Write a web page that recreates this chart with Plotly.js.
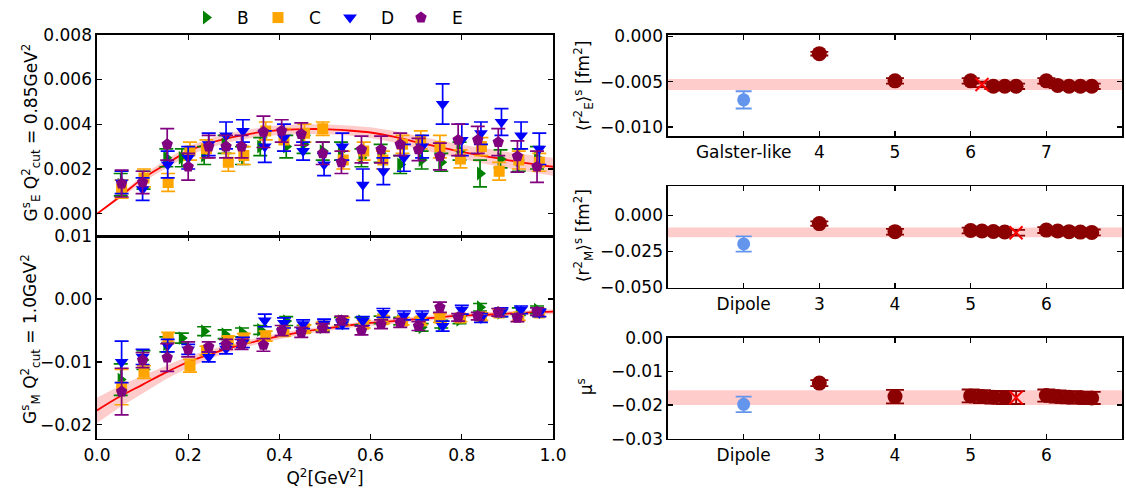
<!DOCTYPE html>
<html>
<head>
<meta charset="utf-8">
<script src="https://cdn.plot.ly/plotly-3.0.1.min.js"></script>
<style>html,body{margin:0;padding:0;background:#fff;}</style>
</head>
<body>
<div id="chart" style="width:1126px;height:495px;"></div>
<script>
// ---------- Left panels: data per ensemble ----------
const Q2_B = [0.052,0.102,0.152,0.186,0.235,0.280,0.318,0.358,0.415,0.453,0.495,0.535,0.580,0.622,0.665,0.712,0.755,0.795,0.840,0.885,0.925,0.965];
const GE_B = [0.0013,0.0015,0.0025,0.0025,0.0026,0.0031,0.0026,0.0030,0.0030,0.0031,0.0028,0.0028,0.0025,0.0027,0.0022,0.0024,0.0023,0.0028,0.0018,0.00245,0.0024,0.0025];
const GEerr_B = [0.0005,0.0004,0.0004,0.0004,0.0004,0.0004,0.0004,0.0004,0.0005,0.0004,0.0004,0.0004,0.0004,0.0004,0.0004,0.0004,0.0004,0.0004,0.0006,0.0004,0.0005,0.0005];
const GM_B = [-0.0128,-0.0097,-0.0072,-0.0062,-0.0051,-0.0056,-0.0053,-0.0049,-0.0035,-0.0048,-0.0045,-0.0035,-0.0035,-0.0033,-0.0035,-0.0045,-0.0040,-0.0033,-0.0013,-0.0022,-0.0020,-0.0017];
const GMerr_B = [0.0025,0.0015,0.0012,0.0008,0.0007,0.0007,0.0007,0.0007,0.0007,0.0006,0.0006,0.0006,0.0006,0.0006,0.0006,0.0006,0.0006,0.0006,0.0006,0.0006,0.0006,0.0006];

const Q2_C = [0.054,0.103,0.156,0.204,0.240,0.288,0.322,0.370,0.410,0.455,0.495,0.540,0.585,0.627,0.670,0.710,0.752,0.797,0.843,0.882,0.925,0.970];
const GE_C = [0.0011,0.0016,0.0014,0.0028,0.0029,0.0023,0.0026,0.0037,0.0033,0.0036,0.0038,0.0024,0.0028,0.0024,0.0031,0.0033,0.0030,0.00245,0.0030,0.0019,0.0024,0.0023];
const GEerr_C = [0.0004,0.0004,0.0004,0.0004,0.0004,0.0004,0.0004,0.0004,0.0005,0.0004,0.0003,0.0004,0.0004,0.0004,0.0004,0.0004,0.0005,0.0004,0.0004,0.0004,0.0004,0.0004];
const GM_C = [-0.0140,-0.0116,-0.0061,-0.0106,-0.0082,-0.0066,-0.0062,-0.0059,-0.0052,-0.0047,-0.0043,-0.0035,-0.0040,-0.0033,-0.0035,-0.0035,-0.0030,-0.0030,-0.0028,-0.0022,-0.0028,-0.0022];
const GMerr_C = [0.0028,0.0010,0.0008,0.0010,0.0007,0.0007,0.0007,0.0008,0.0007,0.0006,0.0006,0.0006,0.0006,0.0006,0.0006,0.0006,0.0007,0.0006,0.0006,0.0006,0.0006,0.0006];

const Q2_D = [0.054,0.100,0.155,0.200,0.245,0.283,0.320,0.368,0.410,0.452,0.498,0.538,0.583,0.628,0.673,0.713,0.758,0.800,0.842,0.887,0.930,0.970];
const GE_D = [0.0014,0.0011,0.0022,0.0025,0.0031,0.0035,0.0037,0.0030,0.0034,0.0028,0.0022,0.0030,0.0013,0.0019,0.0025,0.0030,0.0049,0.0033,0.0036,0.0041,0.0035,0.0029];
const GEerr_D = [0.0005,0.0005,0.0006,0.0005,0.0005,0.0006,0.0005,0.0007,0.0006,0.0004,0.0005,0.0006,0.0007,0.0006,0.0006,0.0005,0.0009,0.0007,0.0005,0.0006,0.0006,0.0007];
const GM_D = [-0.0100,-0.0092,-0.0074,-0.0080,-0.0092,-0.0079,-0.0069,-0.0034,-0.0038,-0.0040,-0.0039,-0.0040,-0.0035,-0.0022,-0.0026,-0.0026,-0.0043,-0.0017,-0.0030,-0.0021,-0.0017,-0.0022];
const GMerr_D = [0.0033,0.0012,0.0010,0.0008,0.0008,0.0008,0.0008,0.0010,0.0008,0.0007,0.0007,0.0007,0.0007,0.0007,0.0007,0.0007,0.0008,0.0007,0.0007,0.0007,0.0006,0.0006];

const Q2_E = [0.054,0.100,0.154,0.200,0.245,0.283,0.317,0.365,0.405,0.448,0.495,0.536,0.580,0.623,0.665,0.705,0.752,0.792,0.835,0.880,0.922,0.965];
const GE_E = [0.00135,0.0014,0.0031,0.0021,0.0030,0.0030,0.0030,0.00366,0.0037,0.00356,0.0027,0.0023,0.00287,0.00287,0.0031,0.00287,0.00256,0.0033,0.0033,0.0032,0.00256,0.0021];
const GEerr_E = [0.0006,0.0005,0.0007,0.0006,0.0005,0.0005,0.0005,0.0007,0.0005,0.0005,0.0005,0.0005,0.0006,0.0006,0.0005,0.0005,0.0006,0.0007,0.0006,0.0006,0.0007,0.0007];
const GM_E = [-0.0147,-0.0097,-0.0093,-0.0080,-0.0076,-0.0072,-0.0072,-0.0073,-0.0050,-0.0053,-0.0046,-0.0034,-0.0050,-0.0040,-0.0038,-0.0043,-0.0013,-0.0029,-0.0027,-0.0021,-0.0030,-0.0020];
const GMerr_E = [0.0037,0.0012,0.0022,0.0012,0.0008,0.0008,0.0008,0.0010,0.0008,0.0008,0.0007,0.0007,0.0007,0.0007,0.0007,0.0007,0.0008,0.0006,0.0006,0.0006,0.0006,0.0006];

// fit curves
const FIT_Q2 = [0,0.05,0.10,0.15,0.20,0.25,0.30,0.35,0.40,0.45,0.50,0.55,0.60,0.65,0.70,0.75,0.80,0.85,0.90,0.95,1.00];
const FIT_GE = [0,0.00076,0.00157,0.0022,0.0028,0.00318,0.00344,0.00362,0.00374,0.00378,0.00378,0.00372,0.00363,0.00345,0.0032,0.00298,0.00276,0.00257,0.0024,0.00224,0.0021];
const FIT_GE_ERR = [0,0.0001,0.00015,0.0002,0.0002,0.0002,0.0002,0.0002,0.00022,0.00022,0.00022,0.00022,0.00024,0.00026,0.00028,0.0003,0.00032,0.00034,0.00036,0.00038,0.0004];
const FIT_GM = [-0.0177,-0.0155,-0.0136,-0.0117,-0.0100,-0.0087,-0.0076,-0.0067,-0.0059,-0.0052,-0.0047,-0.0042,-0.0038,-0.0035,-0.0032,-0.0029,-0.0026,-0.0025,-0.0023,-0.0021,-0.0020];
const FIT_GM_ERR = [0.0020,0.0017,0.0014,0.0011,0.0009,0.0007,0.0006,0.0005,0.0005,0.0004,0.0004,0.0004,0.0004,0.0004,0.0004,0.0004,0.0004,0.0004,0.0004,0.0004,0.0004];

// ---------- Right panels ----------
const RE_TICKS = ['Galster-like','4','5','6','7'];
const RM_TICKS = ['Dipole','3','4','5','6'];
const TICK_POS = [3,4,5,6,7];

const RE_REF_X = [3], RE_REF = [-0.0070], RE_REF_ERR = [0.00095];
const RE_X = [4,5,6,6.3,6.45,6.6,7,7.15,7.3,7.45,7.6];
const RE_V = [-0.0019,-0.0049,-0.0049,-0.0055,-0.0055,-0.0055,-0.0049,-0.0054,-0.0055,-0.0055,-0.0055];
const RE_ERR = [0.0002,0.0003,0.0003,0.0003,0.0003,0.0003,0.0003,0.0003,0.0003,0.0003,0.0003];
const RE_SEL_X = [6.15], RE_SEL = [-0.0053], RE_SEL_ERR = [0.0003];
const RE_BAND = [-0.0059,-0.0047];

const RM_REF_X = [3], RM_REF = [-0.0198], RM_REF_ERR = [0.0053];
const RM_X = [4,5,6,6.15,6.3,6.45,7,7.15,7.3,7.45,7.6];
const RM_V = [-0.0057,-0.0113,-0.0105,-0.0108,-0.0112,-0.0115,-0.0102,-0.0108,-0.0113,-0.0116,-0.0118];
const RM_ERR = [0.0015,0.002,0.002,0.002,0.002,0.002,0.002,0.002,0.002,0.002,0.002];
const RM_SEL_X = [6.6], RM_SEL = [-0.0120], RM_SEL_ERR = [0.002];
const RM_BAND = [-0.0152,-0.0084];

const MU_REF_X = [3], MU_REF = [-0.0198], MU_REF_ERR = [0.0023];
const MU_X = [4,5,6,6.15,6.3,6.45,7,7.15,7.3,7.45,7.6];
const MU_V = [-0.0135,-0.0175,-0.0173,-0.0175,-0.0177,-0.0178,-0.0172,-0.0175,-0.0177,-0.0178,-0.0179];
const MU_ERR = [0.0009,0.0020,0.0019,0.0019,0.0019,0.0019,0.0018,0.0018,0.0018,0.0018,0.0018];
const MU_SEL_X = [6.6], MU_SEL = [-0.0178], MU_SEL_ERR = [0.0019];
const MU_BAND = [-0.0200,-0.0156];

// ---------- build ----------
const COL = {B:'#008000', C:'#FFA500', D:'#0000FF', E:'#800080'};
const SYM = {B:'triangle-right', C:'square', D:'triangle-down', E:'pentagon'};
const MSIZE = {B:12, C:11, D:12, E:12};
const LEG = {B:'legend', C:'legend2', D:'legend3', E:'legend4'};
const SERIES = {
  B:[Q2_B,GE_B,GEerr_B,GM_B,GMerr_B],
  C:[Q2_C,GE_C,GEerr_C,GM_C,GMerr_C],
  D:[Q2_D,GE_D,GEerr_D,GM_D,GMerr_D],
  E:[Q2_E,GE_E,GEerr_E,GM_E,GMerr_E]
};

function band(x, y, e, xa, ya){
  const up = y.map((v,i)=>v+e[i]);
  const lo = y.map((v,i)=>v-e[i]);
  return {x: x.concat(x.slice().reverse()), y: up.concat(lo.slice().reverse()),
    xaxis:xa, yaxis:ya, type:'scatter', mode:'lines', fill:'toself',
    fillcolor:'rgba(255,0,0,0.2)', line:{width:0}, showlegend:false, hoverinfo:'skip'};
}
const traces = [];
traces.push(band(FIT_Q2, FIT_GE, FIT_GE_ERR, 'x','y'));
traces.push(band(FIT_Q2, FIT_GM, FIT_GM_ERR, 'x2','y2'));
traces.push({x:FIT_Q2, y:FIT_GE, xaxis:'x', yaxis:'y', mode:'lines', line:{color:'#FF0000', width:1.8, shape:'spline'}, showlegend:false});
traces.push({x:FIT_Q2, y:FIT_GM, xaxis:'x2', yaxis:'y2', mode:'lines', line:{color:'#FF0000', width:1.8, shape:'spline'}, showlegend:false});

['B','C','D','E'].forEach(k=>{
  const [q,ge,gee,gm,gme] = SERIES[k];
  const mk = {symbol:SYM[k], color:COL[k], size:MSIZE[k]};
  traces.push({x:q, y:ge, xaxis:'x', yaxis:'y', type:'scatter', mode:'markers', name:k, legend:LEG[k],
    marker:mk, error_y:{type:'data', array:gee, visible:true, color:COL[k], thickness:1.7, width:7}});
  traces.push({x:q, y:gm, xaxis:'x2', yaxis:'y2', type:'scatter', mode:'markers', name:k, showlegend:false,
    marker:mk, error_y:{type:'data', array:gme, visible:true, color:COL[k], thickness:1.7, width:7}});
});

function rightPanel(xa, ya, rx, rv, re, px, pv, pe, sx, sv, se){
  traces.push({x:rx, y:rv, xaxis:xa, yaxis:ya, mode:'markers', showlegend:false,
    marker:{symbol:'circle', color:'#6495ED', size:13},
    error_y:{type:'data', array:re, visible:true, color:'#6495ED', thickness:1.8, width:8}});
  traces.push({x:px, y:pv, xaxis:xa, yaxis:ya, mode:'markers', showlegend:false,
    marker:{symbol:'circle', color:'#8B0000', size:15},
    error_y:{type:'data', array:pe, visible:true, color:'#8B0000', thickness:1.8, width:9}});
  traces.push({x:sx, y:sv, xaxis:xa, yaxis:ya, mode:'markers', showlegend:false,
    marker:{symbol:'x-thin-open', color:'#FF0000', size:13, line:{color:'#FF0000', width:2}},
    error_y:{type:'data', array:se, visible:true, color:'#8B0000', thickness:1.8, width:9}});
}
rightPanel('x3','y3', RE_REF_X, RE_REF, RE_REF_ERR, RE_X, RE_V, RE_ERR, RE_SEL_X, RE_SEL, RE_SEL_ERR);
rightPanel('x4','y4', RM_REF_X, RM_REF, RM_REF_ERR, RM_X, RM_V, RM_ERR, RM_SEL_X, RM_SEL, RM_SEL_ERR);
rightPanel('x5','y5', MU_REF_X, MU_REF, MU_REF_ERR, MU_X, MU_V, MU_ERR, MU_SEL_X, MU_SEL, MU_SEL_ERR);

function bandShape(xa, ya, b){
  return {type:'rect', xref:xa+' domain', yref:ya, x0:0, x1:1, y0:b[0], y1:b[1],
    fillcolor:'rgba(255,0,0,0.2)', line:{width:0}, layer:'below'};
}

const ax = {showline:true, linecolor:'black', linewidth:1.6, mirror:'allticks', ticks:'inside',
  ticklen:5, tickwidth:1.2, tickcolor:'black', showgrid:false, zeroline:false};
const F = {family:'DejaVu Sans', size:17, color:'black'};
const LX = [97/1126, 553/1126];
const RX = [668/1126, 1122/1126];
function leg(px){
  return {orientation:'h', x:px/1126, xanchor:'left', y:1-12/495, yanchor:'middle',
    font:F, bgcolor:'rgba(0,0,0,0)', itemsizing:'trace', itemwidth:52, borderwidth:0};
}
function ytitle(text, pxX, pyC){
  return {text:text, xref:'paper', yref:'paper', x:pxX/1126, y:1-pyC/495, xanchor:'center', yanchor:'middle',
    textangle:-90, showarrow:false, font:F};
}

const layout = {
  width:1126, height:495, margin:{l:0,r:0,t:0,b:0},
  paper_bgcolor:'white', plot_bgcolor:'white', font:F, showlegend:true,
  legend:leg(175), legend2:leg(247), legend3:leg(319), legend4:leg(390),
  xaxis:Object.assign({}, ax, {domain:LX, anchor:'y', range:[0,1], tickvals:[0,0.2,0.4,0.6,0.8,1.0], showticklabels:false}),
  yaxis:Object.assign({}, ax, {domain:[1-233/495, 1-29/495], anchor:'x', range:[-0.001,0.008],
    tickvals:[0,0.002,0.004,0.006,0.008], tickformat:'.3f'}),
  xaxis2:Object.assign({}, ax, {domain:LX, anchor:'y2', range:[0,1], tickvals:[0,0.2,0.4,0.6,0.8,1.0], tickformat:'.1f',
    title:{text:'Q<sup>2</sup>[GeV<sup>2</sup>]', font:F, standoff:8}}),
  yaxis2:Object.assign({}, ax, {domain:[1-438/495, 1-233/495], anchor:'x2', range:[-0.0222,0.01],
    tickvals:[0.01,0,-0.01,-0.02], tickformat:'.2f'}),
  xaxis3:Object.assign({}, ax, {domain:RX, anchor:'y3', range:[2,8], tickvals:TICK_POS, ticktext:RE_TICKS}),
  yaxis3:Object.assign({}, ax, {domain:[1-131.7/495, 1-29/495], anchor:'x3', range:[-0.011,0.0002],
    tickvals:[0,-0.005,-0.010], tickformat:'.3f'}),
  xaxis4:Object.assign({}, ax, {domain:RX, anchor:'y4', range:[2,8], tickvals:TICK_POS, ticktext:RM_TICKS}),
  yaxis4:Object.assign({}, ax, {domain:[1-285/495, 1-182.7/495], anchor:'x4', range:[-0.05,0.02],
    tickvals:[0,-0.025,-0.05], tickformat:'.3f'}),
  xaxis5:Object.assign({}, ax, {domain:RX, anchor:'y5', range:[2,8], tickvals:TICK_POS, ticktext:RM_TICKS}),
  yaxis5:Object.assign({}, ax, {domain:[1-438/495, 1-335.7/495], anchor:'x5', range:[-0.03,0],
    tickvals:[0,-0.01,-0.02,-0.03], tickformat:'.2f'}),
  annotations:[
    ytitle('G<sup>s</sup><sub>E</sub> Q<sup>2</sup><sub>cut</sub> = 0.85GeV<sup>2</sup>', 31, 128),
    ytitle('G<sup>s</sup><sub>M</sub> Q<sup>2</sup><sub>cut</sub> = 1.0GeV<sup>2</sup>', 31, 337),
    ytitle('⟨r<sup>2</sup><sub>E</sub>⟩<sup>s</sup> [fm<sup>2</sup>]', 583, 81),
    ytitle('⟨r<sup>2</sup><sub>M</sub>⟩<sup>s</sup> [fm<sup>2</sup>]', 583, 233),
    ytitle('μ<sup>s</sup>', 585, 386)
  ],
  shapes:[bandShape('x3','y3',RE_BAND), bandShape('x4','y4',RM_BAND), bandShape('x5','y5',MU_BAND)]
};

Plotly.newPlot('chart', traces, layout, {displayModeBar:false, staticPlot:true});
</script>
</body>
</html>
